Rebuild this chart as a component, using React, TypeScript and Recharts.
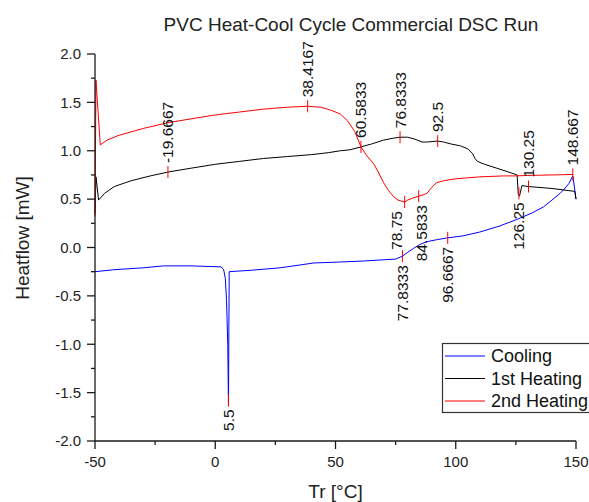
import { ComposedChart, Line, Scatter, XAxis, YAxis } from 'recharts';

// Cooling run (T goes down from 150 to -50)
const coolT = [150, 148.7, 147, 145, 143.4, 140, 136.5, 132, 125.4, 118, 110, 103, 96.7, 92, 88, 85, 82.4, 80, 77.8, 75, 68, 61.6, 52, 41, 27, 15, 5.8, 5.5, 5.2, 4.7, 4.2, 3.5, 2.5, -10, -21.5, -30, -42.3, -50];
const coolHF = [0.5, 0.74, 0.66, 0.6, 0.56, 0.49, 0.42, 0.36, 0.29, 0.22, 0.16, 0.12, 0.1, 0.08, 0.06, 0.03, -0.01, -0.05, -0.09, -0.12, -0.13, -0.14, -0.15, -0.16, -0.21, -0.235, -0.25, -1.64, -1.0, -0.55, -0.32, -0.23, -0.2, -0.19, -0.19, -0.21, -0.23, -0.25];

// 1st heating
const heat1T = [-50, -49.6, -48.5, -46, -42, -35, -27, -19.67, -10, 0, 10, 20, 30, 40, 47, 52, 56, 60.6, 65, 70, 74, 76.8, 80, 83, 86, 88, 92.5, 95, 98, 102, 105, 107, 108, 109, 112, 117, 122, 125.5, 126, 126.5, 127.5, 130.25, 140, 149.5, 150];
const heat1HF = [0.35, 0.73, 0.49, 0.56, 0.63, 0.69, 0.74, 0.78, 0.82, 0.86, 0.89, 0.92, 0.94, 0.96, 0.98, 1.0, 1.01, 1.04, 1.07, 1.11, 1.13, 1.14, 1.14, 1.12, 1.09, 1.09, 1.1, 1.09, 1.07, 1.05, 1.02, 0.97, 0.92, 0.89, 0.86, 0.82, 0.78, 0.75, 0.55, 0.53, 0.64, 0.63, 0.61, 0.58, 0.5];

// 2nd heating
const heat2T = [-50, -49.6, -47.8, -45, -40, -30, -19.67, -10, 0, 10, 20, 30, 38.4, 44, 48, 52, 55, 58, 60.6, 63, 66, 68, 70, 72, 74, 76, 78.75, 80, 82, 84.6, 86, 88, 90, 92, 95, 100, 105, 110, 115, 120, 125, 130, 140, 148.7];
const heat2HF = [0.32, 1.73, 1.06, 1.11, 1.16, 1.23, 1.29, 1.33, 1.37, 1.4, 1.43, 1.45, 1.46, 1.45, 1.42, 1.38, 1.31, 1.2, 1.04, 0.95, 0.86, 0.77, 0.67, 0.59, 0.53, 0.49, 0.47, 0.49, 0.51, 0.53, 0.54, 0.56, 0.62, 0.67, 0.69, 0.71, 0.72, 0.73, 0.735, 0.74, 0.74, 0.745, 0.75, 0.755];

// peak / onset markers
const markT = [-19.6667, 38.4167, 60.5833, 76.8333, 78.75, 84.5833, 92.5, 126.25, 130.25, 148.667, 5.5, 77.8333, 96.6667];
const markHF = [0.78, 1.46, 1.04, 1.14, 0.47, 0.53, 1.1, 0.56, 0.63, 0.755, -1.58, -0.09, 0.1];
const markSide = ['up', 'up', 'up', 'up', 'down', 'down', 'up', 'down', 'up', 'up', 'down', 'down', 'down'];

const xTicks = [-50, -25, 0, 25, 50, 75, 100, 125, 150];
const yTicks = [-2, -1.75, -1.5, -1.25, -1, -0.75, -0.5, -0.25, 0, 0.25, 0.5, 0.75, 1, 1.25, 1.5, 1.75, 2];

const seriesNames = ['Cooling', '1st Heating', '2nd Heating'];
const seriesColors = ['#0000ff', '#000000', '#ff0000'];

// small sideways shifts so crowded labels don't collide (px)
const labelNudge: Record<string, number> = { '78.75': -8, '84.5833': 3 };

const toPts = (t: number[], hf: number[]) => t.map((x, i) => ({ x, y: hf[i] }));
const coolData = toPts(coolT, coolHF);
const heat1Data = toPts(heat1T, heat1HF);
const heat2Data = toPts(heat2T, heat2HF);
const markData = markT.map((x, i) => ({ x, y: markHF[i], side: markSide[i] }));

const FONT = '"Liberation Sans", Arial, sans-serif';
const AXIS = '#1a1a1a';

const XTick = (props: any) => {
  const { x, y, payload } = props;
  const major = payload.value % 50 === 0;
  return (
    <g>
      <line x1={x} y1={y} x2={x} y2={y + (major ? 8 : 4)} stroke={AXIS} strokeWidth={1.3} />
      {major && (
        <text x={x} y={y + 26} textAnchor="middle" fontSize={15} fontFamily={FONT} fill="#222">
          {payload.value}
        </text>
      )}
    </g>
  );
};

const YTick = (props: any) => {
  const { x, y, payload } = props;
  const major = Math.round(payload.value * 4) % 2 === 0;
  return (
    <g>
      <line x1={x} y1={y} x2={x - (major ? 8 : 4)} y2={y} stroke={AXIS} strokeWidth={1.3} />
      {major && (
        <text x={x - 14} y={y + 5.3} textAnchor="end" fontSize={15} fontFamily={FONT} fill="#222">
          {payload.value.toFixed(1)}
        </text>
      )}
    </g>
  );
};

const Marker = (props: any) => {
  const { cx, cy, payload } = props;
  const up = payload.side === 'up';
  const label = String(payload.x);
  const tx = cx + (labelNudge[label] || 0);
  const ty = up ? cy - 9 : cy + 9;
  return (
    <g>
      <line x1={cx} y1={cy - 6} x2={cx} y2={cy + 6} stroke="#ff0000" strokeWidth={1} />
      <text
        x={tx}
        y={ty}
        transform={`rotate(-90, ${tx}, ${ty})`}
        textAnchor={up ? 'start' : 'end'}
        dominantBaseline="central"
        fontSize={15.5}
        fontFamily={FONT}
        fill="#111"
      >
        {label}
      </text>
    </g>
  );
};

export default function App() {
  return (
    <div style={{ position: 'absolute', left: 0, top: 0, width: 589, height: 502, background: '#fff' }}>
      <ComposedChart width={589} height={502} margin={{ top: 54, right: 13, bottom: 0, left: 0 }}>
        <XAxis
          type="number"
          dataKey="x"
          domain={[-50, 150]}
          ticks={xTicks}
          interval={0}
          tickSize={0}
          tickMargin={0}
          tick={<XTick />}
          height={61}
          axisLine={{ stroke: AXIS, strokeWidth: 1.3 }}
          label={{
            content: (p: any) => (
              <text x={p.viewBox.x + p.viewBox.width / 2} y={p.viewBox.y + 57} textAnchor="middle" fontSize={19} fontFamily={FONT} fill="#222">
                Tr [°C]
              </text>
            ),
          }}
        />
        <YAxis
          type="number"
          dataKey="y"
          domain={[-2, 2]}
          ticks={yTicks}
          interval={0}
          tickSize={0}
          tickMargin={0}
          tick={<YTick />}
          width={95}
          axisLine={{ stroke: AXIS, strokeWidth: 1.3 }}
          label={{
            content: () => (
              <text x={29} y={238} transform="rotate(-90, 29, 238)" textAnchor="middle" fontSize={19} fontFamily={FONT} fill="#222">
                Heatflow [mW]
              </text>
            ),
          }}
        />
        <Line data={coolData} dataKey="y" stroke={seriesColors[0]} strokeWidth={1} dot={false} activeDot={false} isAnimationActive={false} type="linear" />
        <Line data={heat1Data} dataKey="y" stroke={seriesColors[1]} strokeWidth={1} dot={false} activeDot={false} isAnimationActive={false} type="linear" />
        <Line data={heat2Data} dataKey="y" stroke={seriesColors[2]} strokeWidth={1} dot={false} activeDot={false} isAnimationActive={false} type="linear" />
        <Scatter data={markData} dataKey="y" shape={<Marker />} isAnimationActive={false} legendType="none" />
      </ComposedChart>
      <svg width={589} height={502} style={{ position: 'absolute', left: 0, top: 0, pointerEvents: 'none' }}>
        <text x={351} y={31} textAnchor="middle" fontSize={19} fontFamily={FONT} fill="#222">
          PVC Heat-Cool Cycle Commercial DSC Run
        </text>
        <rect x={442.5} y={343.5} width={150} height={69} fill="#fff" stroke="#333" strokeWidth={1.2} />
        {seriesNames.map((name, i) => {
          const cy = 356 + i * 22.5;
          return (
            <g key={name}>
              <line x1={445} y1={cy} x2={485} y2={cy} stroke={seriesColors[i]} strokeWidth={1} />
              <text x={491} y={cy + 6.4} fontSize={18} fontFamily={FONT} fill="#111">
                {name}
              </text>
            </g>
          );
        })}
      </svg>
    </div>
  );
}
